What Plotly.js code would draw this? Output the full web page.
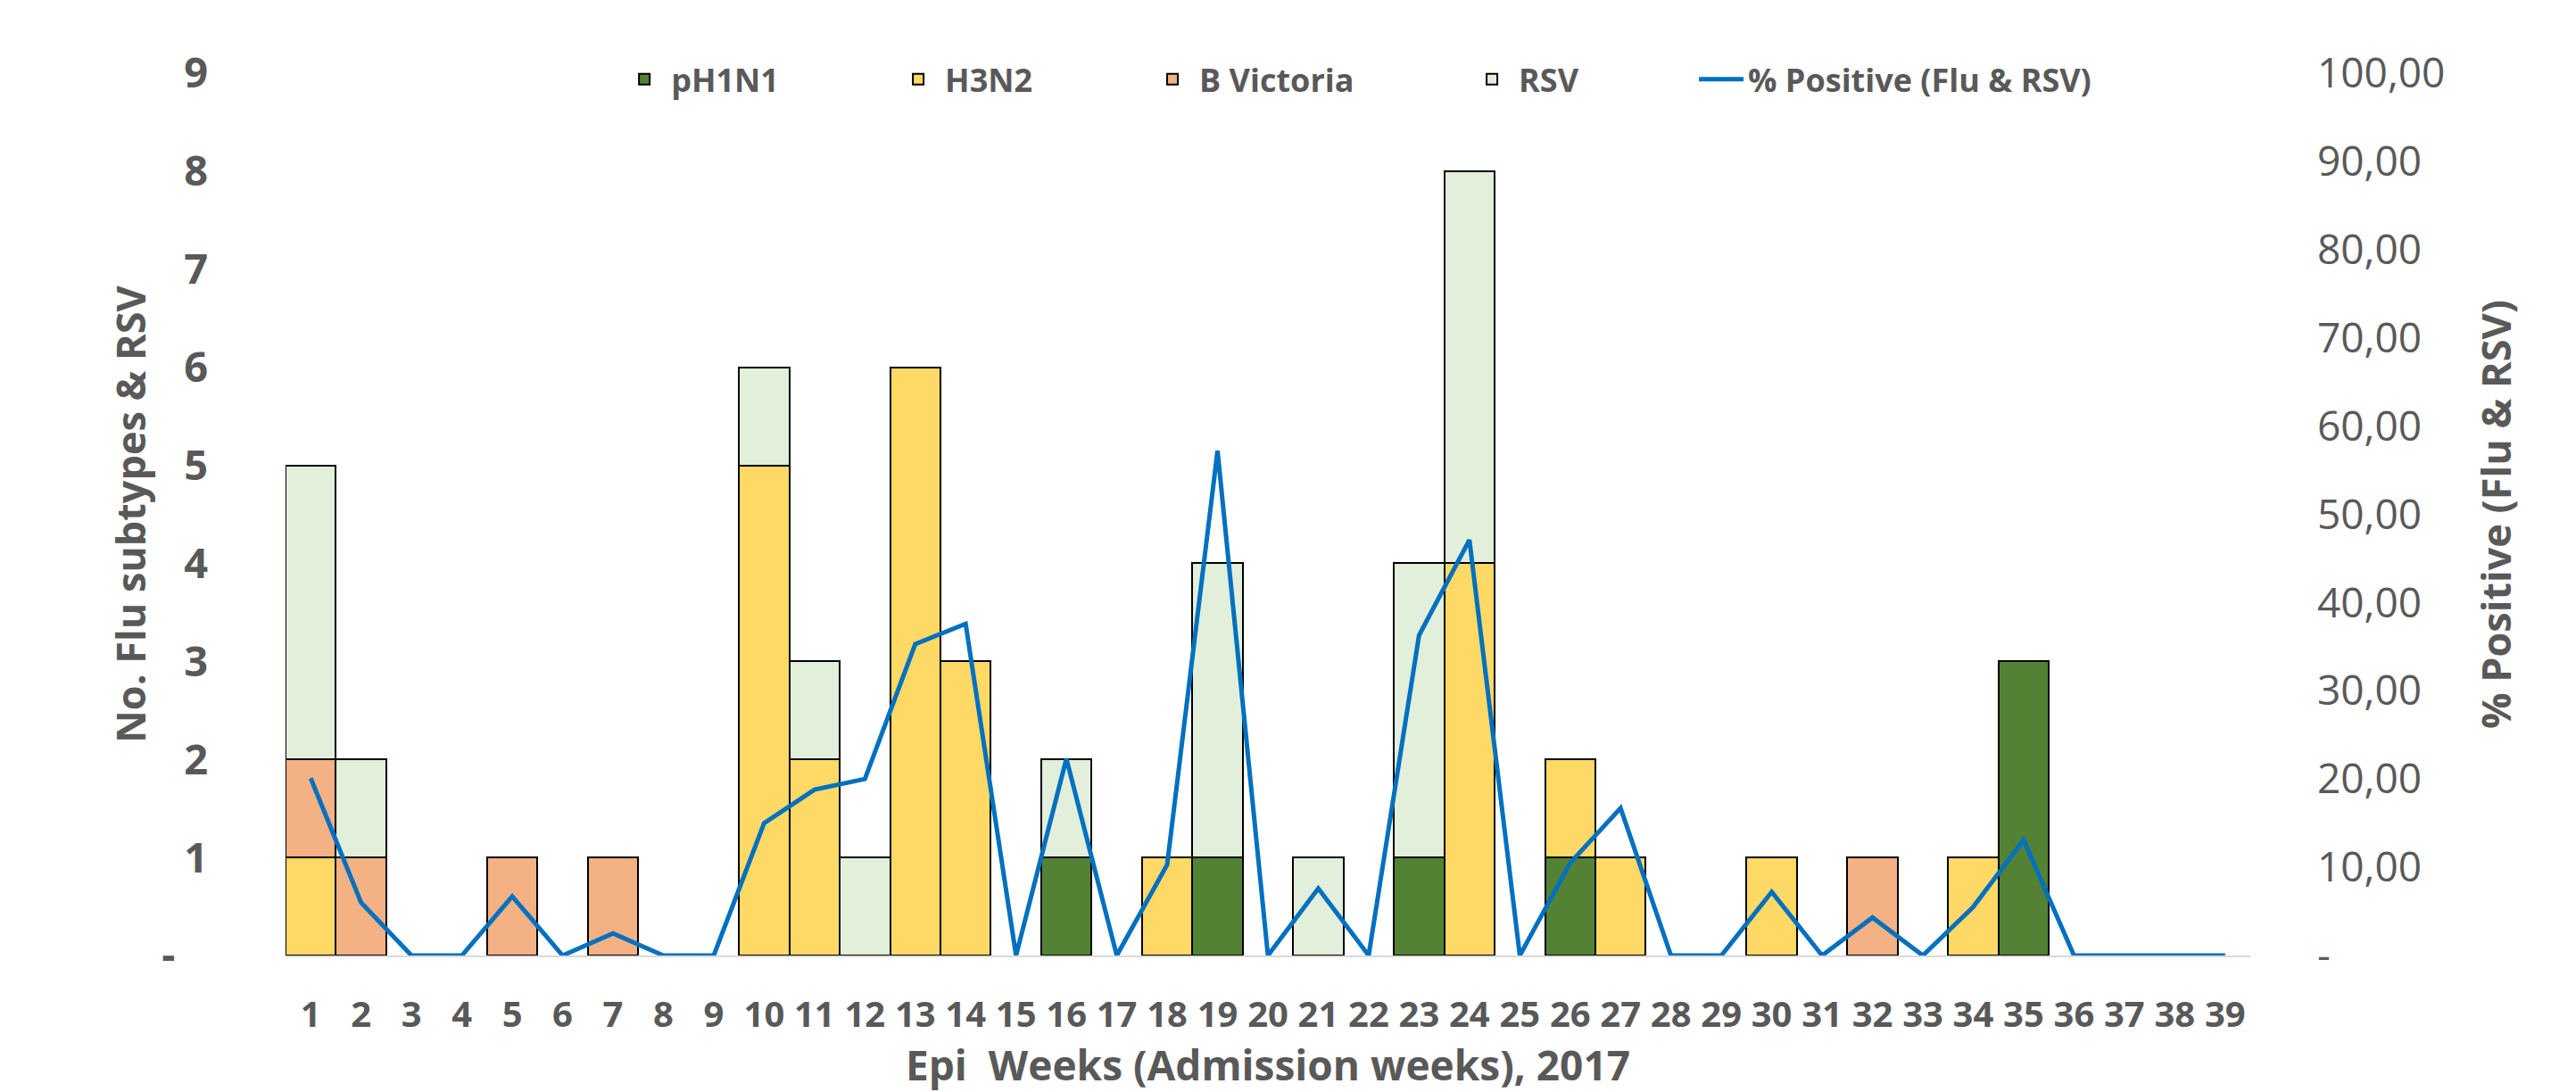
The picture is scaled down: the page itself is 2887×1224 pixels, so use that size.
<!DOCTYPE html>
<html>
<head>
<meta charset="utf-8">
<script src="https://cdn.plot.ly/plotly-3.0.1.min.js"></script>
<style>html,body{margin:0;padding:0;background:#fff;}#chart{width:2887px;height:1224px;}</style>
</head>
<body>
<div id="chart"></div>
<script>
// Epi weeks (categories)
const weeks = ["1","2","3","4","5","6","7","8","9","10","11","12","13","14","15","16","17","18","19","20",
               "21","22","23","24","25","26","27","28","29","30","31","32","33","34","35","36","37","38","39"];

// Counts per week (null = none)
const pH1N1 = [null,null,null,null,null,null,null,null,null,null,
               null,null,null,null,null,1,null,null,1,null,
               null,null,1,null,null,1,null,null,null,null,
               null,null,null,null,3,null,null,null,null];
const H3N2 = [1,null,null,null,null,null,null,null,null,5,
              2,null,6,3,null,null,null,1,null,null,
              null,null,null,4,null,1,1,null,null,1,
              null,null,null,1,null,null,null,null,null];
const BVictoria = [1,1,null,null,1,null,1,null,null,null,
                   null,null,null,null,null,null,null,null,null,null,
                   null,null,null,null,null,null,null,null,null,null,
                   null,1,null,null,null,null,null,null,null];
const RSV = [3,1,null,null,null,null,null,null,null,1,
             1,1,null,null,null,1,null,null,3,null,
             1,null,3,4,null,null,null,null,null,null,
             null,null,null,null,null,null,null,null,null];

// % positive (Flu & RSV)
const pctPositive = [20.1,6.0,0,0,6.7,0,2.5,0,0,15.0,
                     18.8,20.0,35.3,37.6,0,22.3,0,10.3,57.2,0,
                     7.6,0,36.3,47.1,0,10.5,16.7,0,0,7.2,
                     0,4.3,0,5.5,13.1,0,0,0,0];

// Axis tick labels
const leftTickVals = [0,1,2,3,4,5,6,7,8,9];
const leftTickText = ["-\u00a0\u00a0\u00a0","1","2","3","4","5","6","7","8","9"];
const rightTickVals = [0,10,20,30,40,50,60,70,80,90,100];
const rightTickText = ["-","10,00","20,00","30,00","40,00","50,00","60,00","70,00","80,00","90,00","100,00"];

const grey = "#595959";
const FONT = "Open Sans, Noto Sans, sans-serif";
const outline = {color: "#000000", width: 2};

const traces = [
  {type: "bar", name: "pH1N1", x: weeks, y: pH1N1, legend: "legend", marker: {color: "#548235", line: outline}},
  {type: "bar", name: "H3N2", x: weeks, y: H3N2, legend: "legend2", marker: {color: "#FFD966", line: outline}},
  {type: "bar", name: "B Victoria", x: weeks, y: BVictoria, legend: "legend3", marker: {color: "#F4B183", line: outline}},
  {type: "bar", name: "RSV", x: weeks, y: RSV, legend: "legend4", marker: {color: "#E2EFDA", line: outline}},
  {type: "scatter", mode: "lines", name: "% Positive (Flu & RSV)", x: weeks, y: pctPositive, yaxis: "y2",
   legend: "legend5", cliponaxis: false, line: {color: "#0070C0", width: 5}}
];

function leg(x) {
  return {orientation: "h", x: x, xanchor: "left", y: 0.993, yanchor: "middle",
          font: {size: 36, color: grey, weight: "bold", family: FONT},
          itemwidth: 50, bgcolor: "rgba(0,0,0,0)"};
}

const layout = {
  width: 2887, height: 1224,
  margin: {l: 320, r: 365, t: 82, b: 153, autoexpand: false},
  paper_bgcolor: "#ffffff", plot_bgcolor: "#ffffff",
  font: {family: FONT, color: grey},
  barmode: "stack", bargap: 0,
  showlegend: true,
  legend: leg(0.169), legend2: leg(0.3084), legend3: leg(0.4378), legend4: leg(0.6004), legend5: leg(0.7171),
  xaxis: {type: "category", categoryorder: "array", categoryarray: weeks,
          showgrid: false, zeroline: false, showline: true, linecolor: "#D9D9D9", linewidth: 2,
          ticks: "", tickfont: {size: 40, color: grey, weight: "bold", family: FONT},
          ticklabelstandoff: 30,
          title: {text: "Epi  Weeks (Admission weeks), 2017", standoff: 30,
                  font: {size: 46, color: grey, weight: "bold", family: FONT}}},
  yaxis: {range: [0, 9], tickvals: leftTickVals, ticktext: leftTickText,
          showgrid: false, zeroline: false, showline: false, ticks: "",
          tickfont: {size: 47, color: grey, weight: "bold", family: FONT},
          ticklabelstandoff: 86,
          title: {text: "No. Flu subtypes & RSV", standoff: 3,
                  font: {size: 45, color: grey, weight: "bold", family: FONT}}},
  yaxis2: {range: [0, 100], overlaying: "y", side: "right", tickvals: rightTickVals, ticktext: rightTickText,
           showgrid: false, zeroline: false, showline: false, ticks: "",
           tickfont: {size: 46, color: grey, family: FONT},
           ticklabelstandoff: 74,
           title: {text: "% Positive (Flu & RSV)", standoff: 43,
                   font: {size: 45, color: grey, weight: "bold", family: FONT}}}
};

Plotly.newPlot("chart", traces, layout, {staticPlot: true, displayModeBar: false});
</script>
</body>
</html>
